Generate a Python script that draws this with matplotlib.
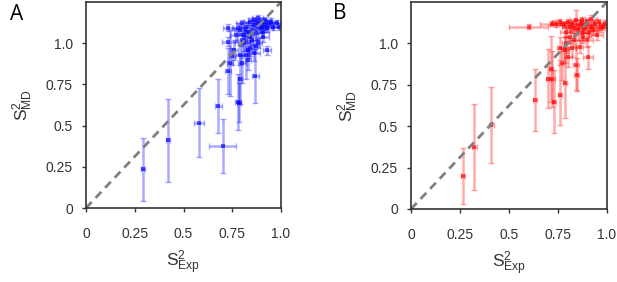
import matplotlib
matplotlib.use('Agg')
import matplotlib.pyplot as plt

plt.rcParams['font.family'] = ['Liberation Sans', 'DejaVu Sans']
plt.rcParams['mathtext.fontset'] = 'custom'
plt.rcParams['mathtext.rm'] = 'Liberation Sans'
plt.rcParams['mathtext.it'] = 'Liberation Sans'

# panel A (blue)
a_x = [0.29, 0.42, 0.578, 0.678, 0.70, 0.78, 0.785, 0.79, 0.867, 0.927,
       0.73, 0.74, 0.73, 0.73, 0.80, 0.82, 0.84, 0.76, 0.77, 0.81,
       0.88, 0.85, 0.75, 0.83, 0.79,
       0.80, 0.82, 0.84, 0.86, 0.88, 0.90, 0.92, 0.94, 0.96, 0.98,
       0.99, 0.83, 0.85, 0.87, 0.89, 0.91, 0.93, 0.95, 0.86, 0.81,
       0.78, 0.80, 0.84, 0.90, 0.87, 0.83, 0.86, 0.79, 0.91, 0.92, 0.88]
a_y = [0.235, 0.41, 0.517, 0.618, 0.378, 0.646, 0.64, 0.78, 0.80, 0.956,
       0.83, 0.88, 1.01, 1.095, 0.88, 0.93, 0.97, 0.96, 1.05, 1.00,
       1.00, 1.02, 0.92, 0.90, 1.08,
       1.12, 1.10, 1.13, 1.11, 1.12, 1.13, 1.11, 1.12, 1.10, 1.12,
       1.10, 1.07, 1.08, 1.06, 1.09, 1.07, 1.09, 1.13, 1.14, 1.05,
       1.09, 1.02, 1.04, 1.10, 0.98, 0.96, 0.94, 0.93, 1.04, 1.14, 1.15]
a_xerr = [0.01, 0.012, 0.025, 0.018, 0.07, 0.015, 0.012, 0.012, 0.018, 0.02,
          0.015, 0.015, 0.035, 0.025, 0.02, 0.02, 0.02, 0.02, 0.03, 0.03,
          0.025, 0.04, 0.015, 0.015, 0.03,
          0.03, 0.03, 0.03, 0.03, 0.03, 0.03, 0.03, 0.03, 0.03, 0.02,
          0.03, 0.03, 0.04, 0.03, 0.03, 0.03, 0.03, 0.03, 0.03, 0.03,
          0.03, 0.025, 0.03, 0.03, 0.02, 0.02, 0.03, 0.02, 0.03, 0.03, 0.03]
a_yerr = [0.19, 0.25, 0.21, 0.165, 0.165, 0.17, 0.12, 0.15, 0.165, 0.03,
          0.14, 0.2, 0.03, 0.02, 0.12, 0.15, 0.05, 0.06, 0.04, 0.05,
          0.03, 0.03, 0.05, 0.06, 0.03,
          0.02, 0.03, 0.02, 0.03, 0.02, 0.02, 0.03, 0.02, 0.02, 0.02,
          0.02, 0.03, 0.03, 0.04, 0.03, 0.03, 0.02, 0.02, 0.02, 0.04,
          0.03, 0.04, 0.03, 0.02, 0.04, 0.05, 0.05, 0.06, 0.03, 0.02, 0.02]

# panel B (red)
b_x = [0.264, 0.323, 0.41, 0.633, 0.70, 0.715, 0.72, 0.73, 0.76, 0.786,
       0.905, 0.60, 0.72, 0.845, 0.786, 0.77, 0.80, 0.84, 0.79, 0.76,
       0.82, 0.86, 0.81, 0.83,
       0.76, 0.78, 0.80, 0.82, 0.84, 0.86, 0.88, 0.90, 0.92, 0.94,
       0.96, 0.98, 0.99, 0.85, 0.87, 0.89, 0.91, 0.93, 0.97, 0.83,
       0.81, 0.79, 0.88, 0.90, 0.95, 0.87, 0.92, 0.74]
b_y = [0.198, 0.373, 0.505, 0.658, 0.788, 0.845, 0.785, 0.648, 0.688, 0.76,
       0.915, 1.10, 1.12, 0.81, 0.96, 0.88, 0.92, 0.87, 1.00, 0.97,
       0.97, 0.98, 1.04, 1.02,
       1.13, 1.11, 1.13, 1.12, 1.14, 1.12, 1.11, 1.13, 1.10, 1.12,
       1.13, 1.10, 1.12, 1.08, 1.06, 1.09, 1.07, 1.08, 1.09, 1.09,
       1.10, 1.07, 1.04, 1.02, 1.05, 1.14, 1.15, 1.12]
b_xerr = [0.01, 0.012, 0.012, 0.012, 0.012, 0.012, 0.015, 0.012, 0.012, 0.012,
          0.025, 0.1, 0.06, 0.012, 0.02, 0.015, 0.02, 0.015, 0.02, 0.015,
          0.02, 0.02, 0.03, 0.03,
          0.04, 0.04, 0.04, 0.04, 0.03, 0.04, 0.04, 0.04, 0.04, 0.04,
          0.03, 0.03, 0.03, 0.04, 0.04, 0.04, 0.04, 0.03, 0.03, 0.04,
          0.04, 0.03, 0.03, 0.03, 0.03, 0.04, 0.03, 0.03]
b_yerr = [0.17, 0.26, 0.23, 0.185, 0.18, 0.2, 0.17, 0.19, 0.18, 0.21,
          0.07, 0.015, 0.015, 0.1, 0.08, 0.1, 0.06, 0.15, 0.06, 0.07,
          0.05, 0.04, 0.04, 0.04,
          0.02, 0.02, 0.02, 0.02, 0.06, 0.02, 0.02, 0.02, 0.02, 0.02,
          0.02, 0.02, 0.02, 0.03, 0.04, 0.03, 0.03, 0.03, 0.02, 0.03,
          0.03, 0.03, 0.04, 0.04, 0.03, 0.02, 0.02, 0.02]

ticks = [0, 0.25, 0.5, 0.75, 1.0]
tick_labels = ['0', '0.25', '0.5', '0.75', '1.0']

fig = plt.figure(figsize=(6.17, 2.82), dpi=100)
ax1 = fig.add_axes([86 / 617, 74 / 282, 195 / 617, 206 / 282])
ax2 = fig.add_axes([411 / 617, 73 / 282, 196 / 617, 207 / 282])

panels = [(ax1, a_x, a_y, a_xerr, a_yerr, '#0000ff'),
          (ax2, b_x, b_y, b_xerr, b_yerr, '#ff0000')]

for ax, x, y, xe, ye, c in panels:
    ax.errorbar(x, y, xerr=xe, yerr=ye, fmt='none', ecolor=c, alpha=0.33,
                elinewidth=1.8, capsize=2.2, capthick=1)
    ax.plot(x, y, 's', color=c, ms=3.2, alpha=0.6, mew=0)
    ax.plot([0, 1], [0, 1], transform=ax.transAxes, ls='--', color='#808080',
            lw=2, dashes=(3, 2))
    ax.set_xlim(0, 1.0)
    ax.set_ylim(0, 1.25)
    ax.set_xticks(ticks)
    ax.set_xticklabels(tick_labels)
    ax.set_yticks(ticks)
    ax.set_yticklabels(tick_labels)
    ax.tick_params(labelsize=10, colors='#333333', length=3, width=1,
                   labelcolor='#333333')
    ax.tick_params(axis='x', pad=11)
    ax.tick_params(axis='y', pad=6.5)
    for s in ax.spines.values():
        s.set_color('#333333')
        s.set_linewidth(1.2)
    ax.set_xlabel(r'$\mathregular{S^2_{Exp}}$', fontsize=12.5, color='#333333',
                  labelpad=5.5)
    ax.set_ylabel(r'$\mathregular{S^2_{MD}}$', fontsize=12.5, color='#333333',
                  labelpad=8)

fig.text(10 / 617, 1 - 4 / 282, 'A', fontsize=15, va='top', ha='left',
         family='Open Sans')
fig.text(333 / 617, 1 - 3 / 282, 'B', fontsize=15, va='top', ha='left',
         family='Open Sans')

fig.savefig('out.png', dpi=100)
